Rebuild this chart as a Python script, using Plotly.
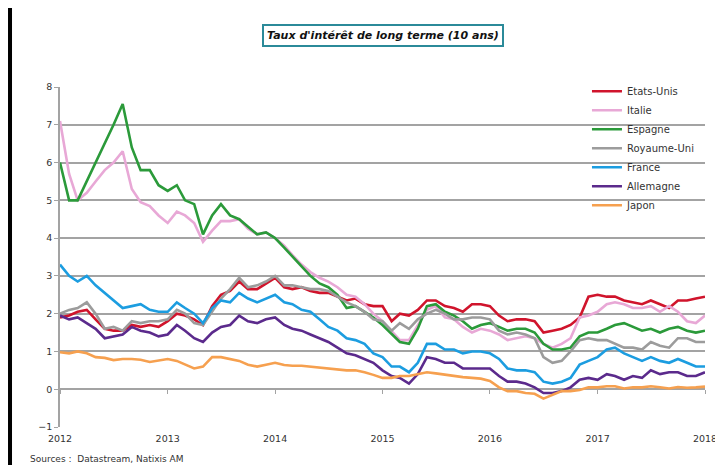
import pandas as pd
import plotly.graph_objects as go

# monthly points, first day of each month, Jan 2012 -> Jan 2018
dates = pd.date_range("2012-01-01", "2018-01-01", freq="MS")
years = pd.date_range("2012-01-01", "2018-01-01", freq="YS")

etats_unis = [
    1.9, 1.95, 2.05, 2.1, 1.85, 1.6, 1.55, 1.55, 1.7, 1.65, 1.7, 1.65,
    1.8, 2.0, 1.95, 1.85, 1.7, 2.2, 2.5, 2.6, 2.85, 2.65, 2.65, 2.8,
    2.95, 2.7, 2.65, 2.7, 2.6, 2.55, 2.55, 2.45, 2.35, 2.4, 2.25, 2.2,
    2.2, 1.8, 2.0, 1.95, 2.1, 2.35, 2.35, 2.2, 2.15, 2.05, 2.25, 2.25,
    2.2, 1.95, 1.8, 1.85, 1.85, 1.8, 1.5, 1.55, 1.6, 1.7, 1.9, 2.45,
    2.5, 2.45, 2.45, 2.35, 2.3, 2.25, 2.35, 2.25, 2.15, 2.35, 2.35, 2.4,
    2.45,
]
italie = [
    7.1, 5.7, 5.0, 5.2, 5.5, 5.8, 6.0, 6.3, 5.3, 4.95, 4.85, 4.6,
    4.4, 4.7, 4.6, 4.4, 3.9, 4.2, 4.45, 4.45, 4.5, 4.25, 4.1, 4.15,
    4.0, 3.8, 3.55, 3.3, 3.1, 2.95, 2.85, 2.7, 2.5, 2.45, 2.25, 2.0,
    1.8, 1.55, 1.3, 1.3, 1.7, 2.1, 2.2, 1.9, 1.85, 1.65, 1.5, 1.6,
    1.55, 1.45, 1.3, 1.35, 1.4, 1.35, 1.2, 1.1, 1.2, 1.35, 1.9, 1.95,
    2.05, 2.25, 2.3, 2.25, 2.15, 2.15, 2.2, 2.05, 2.2, 2.05, 1.8, 1.75,
    1.95,
]
espagne = [
    6.0, 5.0, 5.0, 5.5, 6.0, 6.5, 7.0, 7.55, 6.4, 5.8, 5.8, 5.4,
    5.25, 5.4, 5.0, 4.9, 4.1, 4.6, 4.9, 4.6, 4.5, 4.3, 4.1, 4.15,
    4.0, 3.75, 3.5, 3.25, 3.0, 2.8, 2.7, 2.5, 2.15, 2.2, 2.05, 1.9,
    1.7, 1.45, 1.25, 1.2, 1.6, 2.2, 2.25, 2.05, 1.95, 1.8, 1.6, 1.7,
    1.75, 1.65, 1.55, 1.6, 1.6, 1.5, 1.2, 1.05, 1.05, 1.1, 1.4, 1.5,
    1.5, 1.6, 1.7, 1.75, 1.65, 1.55, 1.6, 1.5, 1.6, 1.65, 1.55, 1.5,
    1.55,
]
royaume_uni = [
    2.0, 2.1, 2.15, 2.3, 2.0, 1.6, 1.65, 1.55, 1.8, 1.75, 1.8, 1.8,
    1.85, 2.1, 2.0, 1.75, 1.7, 2.05, 2.4, 2.65, 2.95, 2.7, 2.75, 2.85,
    3.0, 2.75, 2.75, 2.7, 2.65, 2.65, 2.6, 2.45, 2.3, 2.2, 2.05, 1.85,
    1.8, 1.55, 1.75, 1.6, 1.85, 2.0, 2.1, 2.0, 1.85, 1.85, 1.9, 1.9,
    1.85, 1.55, 1.45, 1.5, 1.45, 1.35, 0.85, 0.7, 0.75, 1.0, 1.3, 1.35,
    1.3, 1.3, 1.2, 1.1, 1.1, 1.05, 1.25, 1.15, 1.1, 1.35, 1.35, 1.25,
    1.25,
]
france = [
    3.3, 3.0, 2.85, 3.0, 2.75, 2.55, 2.35, 2.15, 2.2, 2.25, 2.1, 2.05,
    2.05, 2.3, 2.15, 2.0, 1.75, 2.15, 2.35, 2.3, 2.55, 2.4, 2.3, 2.4,
    2.5, 2.3, 2.25, 2.1, 2.05, 1.85, 1.65, 1.55, 1.35, 1.3, 1.2, 0.95,
    0.85, 0.6, 0.6, 0.45, 0.7, 1.2, 1.2, 1.05, 1.05, 0.95, 1.0, 1.0,
    0.95, 0.8, 0.55, 0.5, 0.5, 0.45, 0.2, 0.15, 0.2, 0.3, 0.65, 0.75,
    0.85, 1.05, 1.1, 0.95, 0.85, 0.75, 0.85, 0.75, 0.7, 0.8, 0.7, 0.6,
    0.6,
]
allemagne = [
    1.95, 1.85, 1.9, 1.75, 1.6, 1.35, 1.4, 1.45, 1.65, 1.55, 1.5, 1.4,
    1.45, 1.7, 1.55, 1.35, 1.25, 1.5, 1.65, 1.7, 1.95, 1.8, 1.75, 1.85,
    1.9, 1.7, 1.6, 1.55, 1.45, 1.35, 1.25, 1.1, 0.95, 0.9, 0.8, 0.7,
    0.5, 0.35, 0.3, 0.15, 0.4, 0.85, 0.8, 0.7, 0.7, 0.55, 0.55, 0.55,
    0.55, 0.35, 0.2, 0.2, 0.15, 0.05, -0.1, -0.1, -0.05, 0.05, 0.25, 0.3,
    0.25, 0.4, 0.35, 0.25, 0.35, 0.3, 0.5, 0.4, 0.45, 0.45, 0.35, 0.35,
    0.45,
]
japon = [
    0.98, 0.95, 1.0, 0.95, 0.85, 0.83, 0.77, 0.8, 0.8, 0.78, 0.72, 0.75,
    0.8, 0.75, 0.65, 0.55, 0.6, 0.85, 0.85, 0.8, 0.75, 0.65, 0.6, 0.65,
    0.7, 0.64, 0.62, 0.62, 0.6, 0.58, 0.55, 0.52, 0.5, 0.5, 0.45, 0.38,
    0.3, 0.3, 0.35, 0.35, 0.4, 0.45, 0.42, 0.38, 0.35, 0.32, 0.3, 0.28,
    0.22, 0.05, -0.05, -0.05, -0.1, -0.12, -0.25, -0.15, -0.05, -0.05, -0.02, 0.05,
    0.05, 0.08, 0.08, 0.02, 0.05, 0.05, 0.08, 0.05, 0.02, 0.06, 0.04, 0.05,
    0.07,
]

series = [
    ("Etats-Unis", etats_unis, "#d0142c"),
    ("Italie", italie, "#e8a8d6"),
    ("Espagne", espagne, "#2b9a3a"),
    ("Royaume-Uni", royaume_uni, "#9c9c9c"),
    ("France", france, "#1c9de0"),
    ("Allemagne", allemagne, "#5b2a8c"),
    ("Japon", japon, "#f6a04f"),
]

FONT = "DejaVu Sans"
GRID = "#a3a3a3"

fig = go.Figure()

# invisible carrier so the overlay axis (year ticks on the 0 line) gets drawn
fig.add_trace(go.Scatter(
    x=dates, y=japon, xaxis="x2", mode="lines", opacity=0,
    showlegend=False, hoverinfo="skip", line=dict(width=0),
))

for name, values, color in series:
    fig.add_trace(go.Scatter(
        x=dates, y=values, name=name, mode="lines",
        line=dict(color=color, width=2.6),
    ))

fig.update_layout(
    width=723, height=465,
    margin=dict(l=52, r=26, t=79, b=46),
    paper_bgcolor="white", plot_bgcolor="white",
    font=dict(family=FONT, size=10, color="#333333"),
    showlegend=True,
    legend=dict(
        x=0.817, y=1.03, xanchor="left", yanchor="top",
        bgcolor="rgba(0,0,0,0)", font=dict(size=10, color="#333333"),
        tracegroupgap=0,
    ),
    annotations=[
        dict(
            text="<b><i>Taux d'intérêt de long terme (10 ans)</i></b>",
            xref="paper", yref="paper", x=0.50, y=1.152,
            xanchor="center", yanchor="middle",
            showarrow=False, font=dict(size=11, color="#111111"),
            bordercolor="#2b8a99", borderwidth=2, borderpad=3,
            bgcolor="white",
        ),
        dict(
            text="Sources :  Datastream, Natixis AM",
            xref="paper", yref="paper", x=-0.05, y=-0.094,
            xanchor="left", yanchor="middle", showarrow=False,
            font=dict(size=9, color="#333333"),
        ),
    ],
    shapes=[
        # outer black frame, left and right edges
        dict(type="line", xref="paper", yref="paper",
             x0=-0.0775, x1=-0.0775, y0=-0.14, y1=1.235,
             line=dict(color="black", width=4)),
        dict(type="line", xref="paper", yref="paper",
             x0=1.037, x1=1.037, y0=-0.14, y1=1.235,
             line=dict(color="black", width=4)),
        # chart area right border
        dict(type="line", xref="paper", yref="paper",
             x0=1.017, x1=1.017, y0=0.0, y1=1.20,
             line=dict(color="#b0b0b0", width=1)),
    ],
    xaxis2=dict(
        overlaying="x", matches="x", anchor="free", position=1 / 9,
        tickvals=years, ticks="outside", ticklen=4, tickcolor=GRID,
        tickwidth=1.2, showticklabels=False, showgrid=False,
        showline=False, zeroline=False,
    ),
)

fig.layout.xaxis.update(
    range=["2012-01-01", "2018-01-01"],
    tickvals=years, tickformat="%Y",
    showgrid=False, showline=False, ticks="", zeroline=False,
    ticklabelstandoff=4,
    tickfont=dict(size=9.5, color="#333333"),
)
fig.update_yaxes(
    range=[-1, 8], dtick=1,
    showgrid=True, gridcolor=GRID, gridwidth=1.5,
    zeroline=True, zerolinecolor=GRID, zerolinewidth=1.5,
    showline=True, linecolor=GRID, linewidth=1.5,
    ticks="outside", ticklen=4, tickcolor=GRID,
    tickfont=dict(size=9.5, color="#333333"),
)

fig.write_html("out.html")
